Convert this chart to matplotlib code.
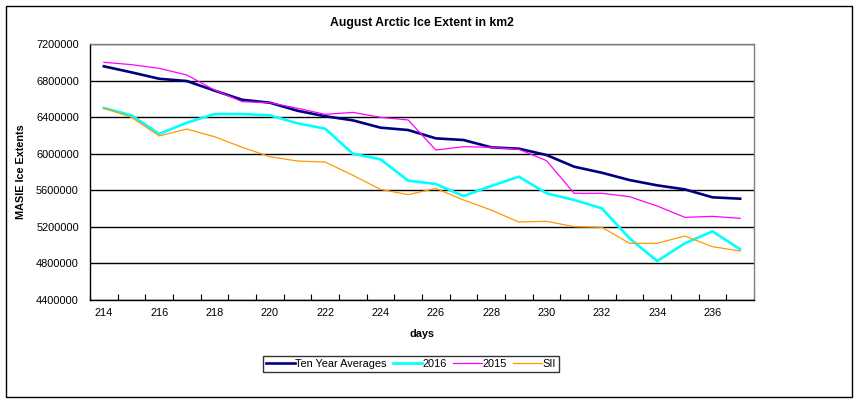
import matplotlib
matplotlib.use("Agg")
import matplotlib.pyplot as plt
from matplotlib.patches import Rectangle

plt.rcParams['font.family'] = ['Liberation Sans', 'DejaVu Sans']

# Data
days = list(range(214, 238))
ten_year = [6956000, 6890000, 6820000, 6795000, 6690000, 6590000, 6558000, 6470000,
            6410000, 6365000, 6285000, 6259000, 6168000, 6150000, 6070000, 6055000,
            5986000, 5858000, 5792000, 5712000, 5654000, 5610000, 5523000, 5508000]
y2016 = [6500000, 6420000, 6216000, 6339000, 6434000, 6434000, 6420000, 6333000,
         6274000, 6000000, 5939000, 5705000, 5669000, 5537000, 5647000, 5749000,
         5567000, 5494000, 5403000, 5075000, 4826000, 5020000, 5151000, 4954000]
y2015 = [7000000, 6974000, 6934000, 6861000, 6697000, 6569000, 6558000, 6497000,
         6431000, 6452000, 6398000, 6369000, 6040000, 6077000, 6070000, 6048000,
         5924000, 5567000, 5567000, 5530000, 5428000, 5304000, 5315000, 5293000]
sii = [6500000, 6398000, 6194000, 6270000, 6186000, 6070000, 5968000, 5920000,
       5909000, 5764000, 5610000, 5552000, 5621000, 5494000, 5384000, 5253000,
       5261000, 5202000, 5195000, 5020000, 5020000, 5100000, 4983000, 4936000]
yticks = list(range(4400000, 7200001, 400000))
xtick_days = list(range(214, 237, 2))

fig = plt.figure(figsize=(8.64, 4.07), dpi=100)
ax = fig.add_axes([90/864, 1-300/407, 664/864, 256/407])

ax.plot(days, ten_year, color='#000080', lw=1.9, label='Ten Year Averages', zorder=3)
ax.plot(days, y2016, color='#00FFFF', lw=1.9, label='2016', zorder=3)
ax.plot(days, y2015, color='#FF00FF', lw=0.9, label='2015', zorder=4)
ax.plot(days, sii, color='#FF9900', lw=0.9, label='SII', zorder=4)

ax.set_xlim(213.5, 237.5)
ax.set_ylim(4400000, 7200000)
ax.set_yticks(yticks)
ax.set_yticklabels([str(v) for v in yticks], fontsize=7.9)
ax.set_xticks(xtick_days)
ax.set_xticklabels([str(d) for d in xtick_days], fontsize=7.9)
ax.set_xticks([213.5 + i for i in range(25)], minor=True)
ax.tick_params(axis='x', which='major', length=0, pad=6)
ax.tick_params(axis='x', which='minor', direction='in', length=4, width=0.8)
ax.tick_params(axis='y', length=0, pad=8)
ax.yaxis.grid(True, color='black', lw=1.0)
ax.set_axisbelow(True)

ax.spines['left'].set_color('black')
ax.spines['bottom'].set_color('black')
ax.spines['top'].set_color('#808080')
ax.spines['right'].set_color('#808080')
for s in ax.spines.values():
    s.set_linewidth(1.0)

ax.set_title('August Arctic Ice Extent in km2', fontsize=8.8, fontweight='bold', pad=13)
ax.set_ylabel('MASIE Ice Extents', fontsize=7.8, fontweight='bold', labelpad=7)
ax.set_xlabel('days', fontsize=7.8, fontweight='bold', labelpad=8)

leg = fig.legend(loc='center', bbox_to_anchor=(411/864, 1-364/407), ncol=4,
                 fontsize=7.9, frameon=True, fancybox=False, handlelength=2.6,
                 handletextpad=0.05, columnspacing=0.6, borderpad=0.3,
                 borderaxespad=0)
leg.get_frame().set_edgecolor('black')
leg.get_frame().set_linewidth(1.0)

fig.patches.append(Rectangle((6/864, 1-397/407), 846/864, 391/407,
                             transform=fig.transFigure, fill=False,
                             edgecolor='black', lw=1.0))

fig.savefig('out.png', dpi=100)
